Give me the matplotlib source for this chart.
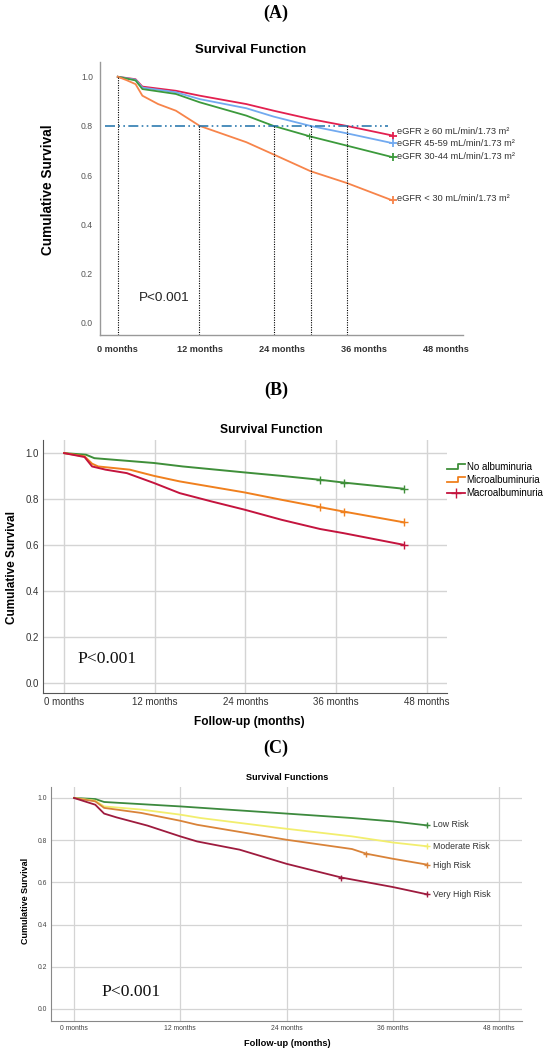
import numpy as np
import matplotlib
matplotlib.use("Agg")
import matplotlib.pyplot as plt
from matplotlib.lines import Line2D
from matplotlib.legend_handler import HandlerBase
from matplotlib.transforms import ScaledTranslation

plt.rcParams['font.family'] = ['Liberation Sans', 'DejaVu Sans']
SERIF = ['Liberation Serif', 'DejaVu Serif']

# ---------------- panel A : eGFR groups ----------------
a_labels = ["eGFR ≥ 60 mL/min/1.73 m²", "eGFR 45-59 mL/min/1.73 m²",
            "eGFR 30-44 mL/min/1.73 m²", "eGFR < 30 mL/min/1.73 m²"]
a_colors = ["#e3204f", "#72aaf0", "#3c9a3c", "#f7844a"]
a_t = [0, 2.6, 3.6, 8.5, 12, 18.8, 22.8, 28.2, 33.5, 40.2]
a_ge60 = [1.0, 0.99, 0.96, 0.943, 0.923, 0.889, 0.862, 0.828, 0.80, 0.761]
a_45_59 = [1.0, 0.988, 0.956, 0.937, 0.909, 0.872, 0.838, 0.80, 0.770, 0.730]
a_30_44 = [1.0, 0.985, 0.95, 0.93, 0.896, 0.842, 0.80, 0.757, 0.72, 0.673]
a_lt30_t = [0, 1.3, 2.6, 3.6, 5.9, 8.5, 12, 18.8, 22.8, 28.2, 33.5, 40.2]
a_lt30 = [1.0, 0.986, 0.97, 0.923, 0.889, 0.862, 0.80, 0.734, 0.684, 0.616, 0.568, 0.497]
a_label_y = [0.778, 0.73, 0.676, 0.507]
a_time_to_80 = [11.9, 22.8, 28.2, 33.5]

# ---------------- panel B : albuminuria ----------------
b_labels = ["No albuminuria", "Microalbuminuria", "Macroalbuminuria"]
b_colors = ["#3f8f3a", "#f0801e", "#c4143e"]
b_no_t = [0, 2.9, 4.0, 11.9, 15.7, 23.9, 28.8, 33.9, 37.0, 45.0]
b_no = [1.0, 0.993, 0.978, 0.957, 0.942, 0.916, 0.901, 0.884, 0.872, 0.845]
b_micro_t = [0, 2.7, 3.7, 4.5, 8.7, 11.9, 15.3, 23.9, 28.8, 33.9, 37.0, 45.0]
b_micro = [1.0, 0.986, 0.954, 0.942, 0.928, 0.901, 0.877, 0.829, 0.797, 0.765, 0.746, 0.699]
b_macro_t = [0, 2.7, 3.7, 5.5, 8.3, 11.9, 15.3, 19.5, 23.9, 28.8, 33.9, 37.0, 45.0]
b_macro = [1.0, 0.983, 0.942, 0.928, 0.913, 0.870, 0.826, 0.790, 0.754, 0.710, 0.670, 0.652, 0.601]
b_censor_t = [[33.9, 37.0, 45.0], [33.9, 37.0, 45.0], [45.0]]

# ---------------- panel C : risk groups ----------------
c_labels = ["Low Risk", "Moderate Risk", "High Risk", "Very High Risk"]
c_colors = ["#3d8a3e", "#f2ee6e", "#d98339", "#9e1b3e"]
c_low_t = [0, 2.4, 3.4, 12, 24, 31.4, 36, 39.9]
c_low = [1.0, 0.995, 0.981, 0.960, 0.926, 0.905, 0.889, 0.870]
c_mod_t = [0, 2.4, 3.4, 7.6, 12, 14.3, 24, 31.4, 36, 39.9]
c_mod = [1.0, 0.987, 0.960, 0.945, 0.921, 0.905, 0.854, 0.818, 0.789, 0.771]
c_high_t = [0, 2.4, 3.4, 7.6, 12, 13.9, 24, 31.4, 33.0, 36, 39.9]
c_high = [1.0, 0.984, 0.953, 0.929, 0.892, 0.873, 0.802, 0.758, 0.736, 0.712, 0.684]
c_vhigh_t = [0, 2.4, 3.4, 4.8, 8.3, 12, 13.9, 18.7, 24, 30.2, 36, 39.9]
c_vhigh = [1.0, 0.968, 0.926, 0.908, 0.869, 0.818, 0.794, 0.755, 0.688, 0.623, 0.578, 0.543]
c_censor_t = [[39.9], [39.9], [33.0, 39.9], [30.2, 39.9]]
c_label_y = [0.873, 0.769, 0.680, 0.541]

months = [0, 12, 24, 36, 48]
month_labels = ["%d months" % m for m in months]
yticks = [0.0, 0.2, 0.4, 0.6, 0.8, 1.0]

W, H = 550, 1054


def figxy(x, y):
    return x / W, 1 - y / H


class StepHandler(HandlerBase):
    # SPSS-style step symbol in the legend
    def create_artists(self, legend, orig_handle, xdescent, ydescent,
                       width, height, fontsize, trans):
        x0, y0 = -xdescent, -ydescent
        xs = [x0, x0 + 0.6 * width, x0 + 0.6 * width, x0 + width]
        ys = [y0 + 0.15 * height, y0 + 0.15 * height, y0 + 0.9 * height, y0 + 0.9 * height]
        ln = Line2D(xs, ys, color=orig_handle.get_color(),
                    lw=orig_handle.get_linewidth(), transform=trans)
        return [ln]


fig = plt.figure(figsize=(5.5, 10.54), dpi=100)

# ======== A ========
ax = fig.add_axes([100 / W, 1 - 335 / H, 363 / W, 273 / H])
a_series = [(a_t, a_ge60), (a_t, a_45_59), (a_t, a_30_44), (a_lt30_t, a_lt30)]
for (t, s), c, lab, ly in zip(a_series, a_colors, a_labels, a_label_y):
    ax.plot(t, s, color=c, lw=1.3)
    ax.plot(t[-1], s[-1], marker='+', color=c, ms=6, mew=1.3)
    ax.text(t[-1] + 0.7, ly, lab, fontsize=6.7, color='#333333', va='center')
ax.plot(28.0, np.interp(28.0, a_t, a_30_44), marker='+', color=a_colors[2], ms=4, mew=0.8)
ax.set_xlim(-2.6, 50.5)
ax.set_ylim(-0.05, 1.06)
ax.hlines(0.8, -1.8, 39.5, colors='#2f7bb0', lw=1.2, linestyles=(0, (6, 2, 1, 2, 1, 2)))
ax.vlines(0, -0.05, 1.0, colors='black', lw=0.8, linestyles=(0, (1, 1.2)))
ax.vlines(a_time_to_80, -0.05, 0.8, colors='black', lw=0.8, linestyles=(0, (1, 1.2)))
ax.text(3.1, 0.099, "P<0.001", fontsize=9.7, color='#222222', va='center')
ax.set_xticks(months)
ax.set_xticklabels(month_labels, fontsize=6.6, fontweight='bold', color='#333333')
shift = ScaledTranslation(0.16, 0, fig.dpi_scale_trans)
for lbl in ax.get_xticklabels():
    lbl.set_transform(lbl.get_transform() + shift)
ax.set_yticks(yticks)
ax.set_yticklabels(["%.1f" % v for v in yticks], fontsize=6.2, color='#555555')
ax.tick_params(length=0, pad=5)
ax.tick_params(axis='x', pad=7)
for sp in ['top', 'right']:
    ax.spines[sp].set_visible(False)
for sp in ['left', 'bottom']:
    ax.spines[sp].set_color('#999999')
    ax.spines[sp].set_linewidth(1.0)
fig.text(*figxy(48, 190), "Cumulative Survival", fontsize=9.8, fontweight='bold',
         rotation=90, ha='center', va='center')
fig.text(*figxy(251, 50), "Survival Function", fontsize=9.5, fontweight='bold',
         ha='center', va='center')
fig.text(*figxy(276, 13), "(A)", fontsize=13, fontweight='bold', family=SERIF,
         ha='center', va='center')

# ======== B ========
ax = fig.add_axes([43 / W, 1 - 693 / H, 404 / W, 253 / H])
b_series = [(b_no_t, b_no), (b_micro_t, b_micro), (b_macro_t, b_macro)]
handles = []
for (t, s), c, lab, ct in zip(b_series, b_colors, b_labels, b_censor_t):
    ax.plot(t, s, color=c, lw=1.4)
    ax.plot(ct, np.interp(ct, t, s), '+', color=c, ms=6, mew=1.0)
    handles.append(Line2D([], [], color=c, lw=1.3, label=lab,
                          marker='+' if lab == "Macroalbuminuria" else None, ms=7))
ax.set_xlim(-2.8, 50.7)
ax.set_ylim(-0.043, 1.057)
ax.grid(True, color='#d4d4d4', lw=1.0)
ax.set_axisbelow(True)
ax.set_xticks(months)
ax.set_xticklabels(month_labels, fontsize=7, color='#333333')
ax.set_yticks(yticks)
ax.set_yticklabels(["%.1f" % v for v in yticks], fontsize=7, color='#333333')
ax.tick_params(length=0, pad=3)
for sp in ['top', 'right']:
    ax.spines[sp].set_visible(False)
for sp in ['left', 'bottom']:
    ax.spines[sp].set_color('#555555')
ax.text(1.7, 0.104, "P<0.001", fontsize=12.6, family=SERIF, color='#111111', va='center')
ax.legend(handles=handles, loc='upper left', bbox_to_anchor=(0.985, 0.935), frameon=False,
          fontsize=7, handlelength=1.9, handletextpad=0.15, labelspacing=0.3,
          borderaxespad=0.2,
          handler_map={handles[0]: StepHandler(), handles[1]: StepHandler()})
fig.text(*figxy(12, 568), "Cumulative Survival", fontsize=8.5, fontweight='bold',
         rotation=90, ha='center', va='center')
fig.text(*figxy(249, 722), "Follow-up (months)", fontsize=8.6, fontweight='bold',
         ha='center', va='center')
fig.text(*figxy(271, 430), "Survival Function", fontsize=8.7, fontweight='bold',
         ha='center', va='center')
fig.text(*figxy(276, 390), "(B)", fontsize=13, fontweight='bold', family=SERIF,
         ha='center', va='center')

# ======== C ========
ax = fig.add_axes([51 / W, 1 - 1021 / H, 471 / W, 234 / H])
c_series = [(c_low_t, c_low), (c_mod_t, c_mod), (c_high_t, c_high), (c_vhigh_t, c_vhigh)]
for (t, s), c, lab, ct, ly in zip(c_series, c_colors, c_labels, c_censor_t, c_label_y):
    ax.plot(t, s, color=c, lw=1.3)
    ax.plot(ct, np.interp(ct, t, s), '+', color=c, ms=5, mew=1.0)
    ax.text(t[-1] + 0.6, ly, lab, fontsize=6.3, color='#333333', va='center')
ax.set_xlim(-2.6, 50.6)
ax.set_ylim(-0.057, 1.052)
ax.grid(True, color='#d4d4d4', lw=0.9)
ax.set_axisbelow(True)
ax.set_xticks(months)
ax.set_xticklabels(month_labels, fontsize=4.9, color='#444444')
ax.set_yticks(yticks)
ax.set_yticklabels(["%.1f" % v for v in yticks], fontsize=4.9, color='#444444')
ax.tick_params(length=0, pad=3)
for sp in ['top', 'right']:
    ax.spines[sp].set_visible(False)
for sp in ['left', 'bottom']:
    ax.spines[sp].set_color('#888888')
ax.text(3.1, 0.082, "P<0.001", fontsize=12.6, family=SERIF, color='#111111', va='center')
fig.text(*figxy(26, 901), "Cumulative Survival", fontsize=6.5, fontweight='bold',
         rotation=90, ha='center', va='center')
fig.text(*figxy(287, 1043), "Follow-up (months)", fontsize=6.7, fontweight='bold',
         ha='center', va='center')
fig.text(*figxy(287, 778), "Survival Functions", fontsize=6.6, fontweight='bold',
         ha='center', va='center')
fig.text(*figxy(276, 748), "(C)", fontsize=13, fontweight='bold', family=SERIF,
         ha='center', va='center')

fig.savefig("out.png", dpi=100)
